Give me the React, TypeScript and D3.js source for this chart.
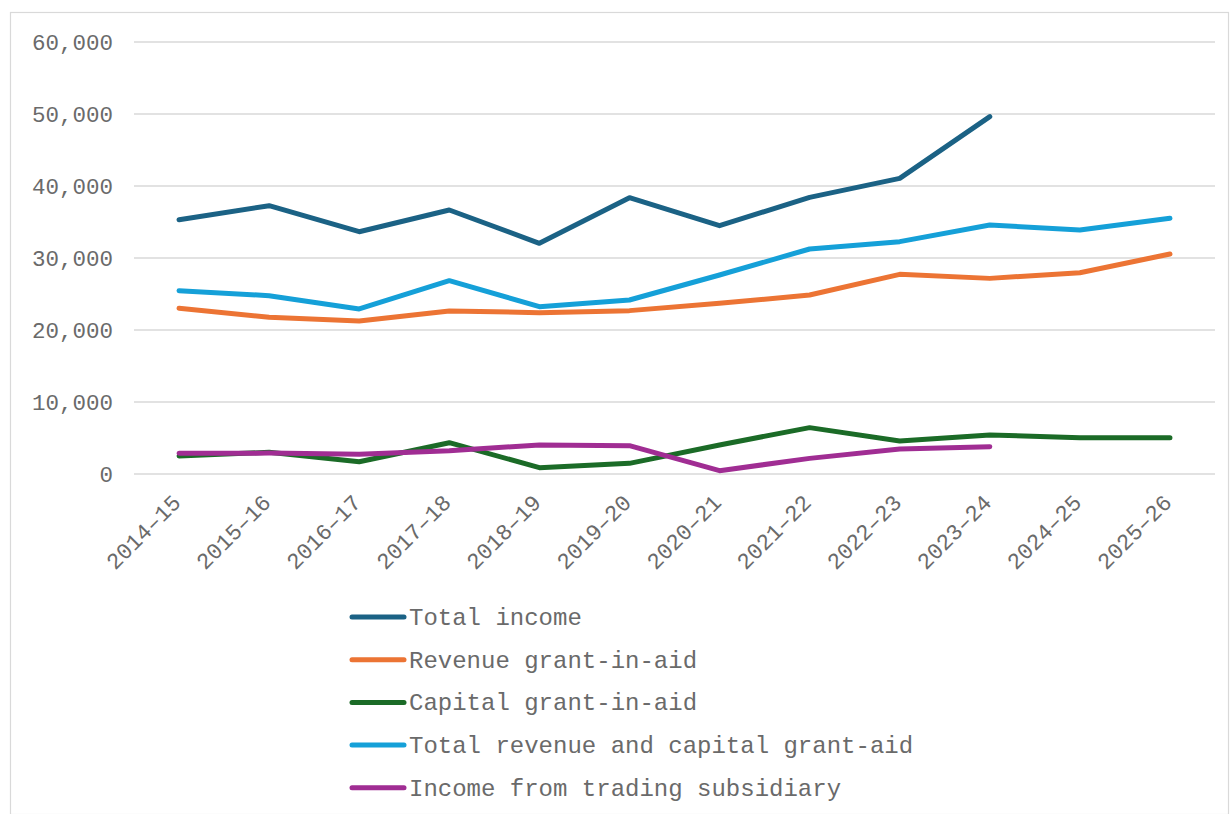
import React from "react";
import * as d3 from "d3";

const categories = ["2014–15","2015–16","2016–17","2017–18","2018–19","2019–20","2020–21","2021–22","2022–23","2023–24","2024–25","2025–26"];
const totalIncome: (number | null)[] = [35300, 37270, 33650, 36670, 32040, 38380, 34490, 38420, 41060, 49630, null, null];
const revenueGIA: (number | null)[] = [23010, 21760, 21250, 22640, 22410, 22690, 23700, 24860, 27730, 27170, 27960, 30560];
const capitalGIA: (number | null)[] = [2500, 3010, 1710, 4350, 880, 1480, 4030, 6440, 4580, 5420, 5050, 5050];
const totalRevCap: (number | null)[] = [25460, 24770, 22920, 26850, 23240, 24170, 27640, 31250, 32270, 34580, 33890, 35510];
const tradingIncome: (number | null)[] = [2870, 2900, 2730, 3240, 4030, 3940, 460, 2170, 3470, 3800, null, null];
const yTicks = [0, 10000, 20000, 30000, 40000, 50000, 60000];

const seriesList = [
  { name: "Total income", values: totalIncome, color: "#1b6285" },
  { name: "Revenue grant-in-aid", values: revenueGIA, color: "#ec7434" },
  { name: "Capital grant-in-aid", values: capitalGIA, color: "#1b6b27" },
  { name: "Total revenue and capital grant-aid", values: totalRevCap, color: "#15a0d8" },
  { name: "Income from trading subsidiary", values: tradingIncome, color: "#a02d93" },
];

const W = 1231, H = 814;
const FONT = "'Liberation Mono', 'Courier New', monospace";
const TEXT = "#6a6a6a";

export default function App() {
  const x = d3.scaleBand<string>().domain(categories).range([134, 1215]);
  const y = d3.scaleLinear().domain([0, 60000]).range([474, 42]);
  const fmt = d3.format(",");
  const line = d3.line<number | null>()
    .defined((d) => d !== null)
    .x((_, i) => (x(categories[i]) as number) + x.bandwidth() / 2)
    .y((d) => y(d as number));
  const drawOrder = [0, 1, 3, 2, 4];
  return (
    <div style={{ position: "absolute", left: 0, top: 0 }}>
      <svg width={W} height={H} style={{ display: "block" }}>
        <rect x={0} y={0} width={W} height={H} fill="#fff" />
        <rect x={10.5} y={12.5} width={W - 13} height={H - 12} fill="none" stroke="#d9d9d9" strokeWidth={1.2} />
        {yTicks.map((t) => (
          <g key={t}>
            <line x1={134} x2={1215} y1={y(t)} y2={y(t)} stroke="#d9d9d9" strokeWidth={1.5} />
            <text x={113} y={y(t)} dy="0.35em" textAnchor="end" fontFamily={FONT} fontSize={22.5} fill={TEXT}>
              {fmt(t)}
            </text>
          </g>
        ))}
        {categories.map((c) => {
          const cx = (x(c) as number) + x.bandwidth() / 2;
          return (
            <text key={c} transform={`translate(${cx + 3},${504}) rotate(-45)`} textAnchor="end" fontFamily={FONT} fontSize={22.5} fill={TEXT}>
              {c}
            </text>
          );
        })}
        {drawOrder.map((i) => {
          const s = seriesList[i];
          return (
            <path key={s.name} d={line(s.values) || ""} fill="none" stroke={s.color} strokeWidth={5} strokeLinejoin="round" strokeLinecap="round" />
          );
        })}
        {seriesList.map((s, i) => {
          const ly = 617 + i * 42.7;
          return (
            <g key={s.name}>
              <line x1={352} x2={404} y1={ly} y2={ly} stroke={s.color} strokeWidth={5} strokeLinecap="round" />
              <text x={409} y={ly} dy="0.33em" fontFamily={FONT} fontSize={24} fill={TEXT}>{s.name}</text>
            </g>
          );
        })}
      </svg>
    </div>
  );
}
